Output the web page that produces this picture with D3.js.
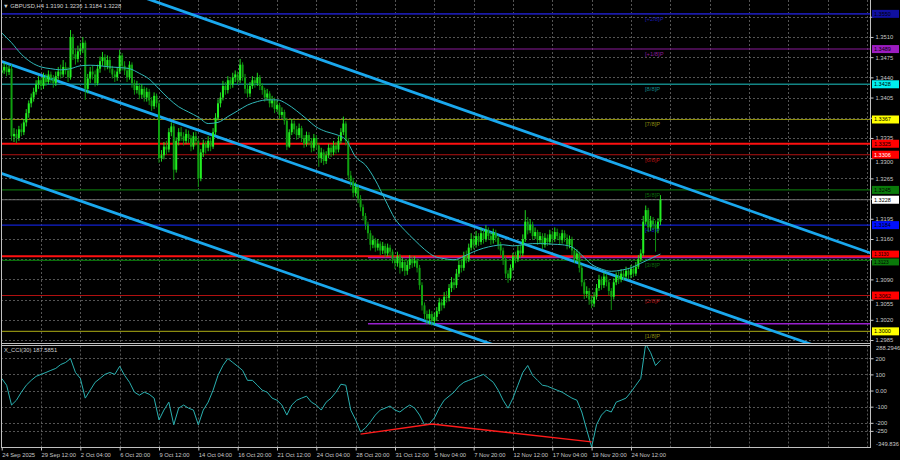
<!DOCTYPE html>
<html><head><meta charset="utf-8">
<script src="https://cdn.jsdelivr.net/npm/d3@7"></script>
<style>
html,body{margin:0;padding:0;background:#000;}
svg{display:block;}
text{font-family:"Liberation Sans",Arial,sans-serif;}
</style></head><body>
<svg id="c" width="900" height="460"></svg>
<script>
// ---------------- DATA ----------------
const symbol = "GBPUSD,H4";
const lastOHLC = ["1.3190","1.3236","1.3184","1.3228"];
const cciName = "X_CCI(30) 187.5851";
const firstOpen = 1.3448;
const closes = [
1.3452,1.3458,1.3449,1.3455,1.3338,1.3342,1.3335,1.3350,1.3345,1.3362,
1.3378,1.3395,1.3405,1.3415,1.3428,1.3435,1.3425,1.3440,1.3432,1.3445,
1.3438,1.3430,1.3442,1.3450,1.3445,1.3458,1.3452,1.3440,1.3510,1.3480,
1.3472,1.3485,1.3490,1.3500,1.3420,1.3438,1.3450,1.3445,1.3430,1.3455,
1.3468,1.3475,1.3460,1.3470,1.3455,1.3445,1.3440,1.3450,1.3478,1.3460,
1.3452,1.3440,1.3462,1.3430,1.3418,1.3425,1.3410,1.3420,1.3405,1.3415,
1.3400,1.3390,1.3408,1.3395,1.3300,1.3305,1.3320,1.3315,1.3345,1.3355,
1.3280,1.3330,1.3345,1.3338,1.3330,1.3342,1.3335,1.3320,1.3338,1.3330,
1.3265,1.3310,1.3325,1.3318,1.3330,1.3320,1.3345,1.3370,1.3395,1.3405,
1.3425,1.3418,1.3435,1.3428,1.3440,1.3445,1.3435,1.3462,1.3440,1.3420,
1.3412,1.3425,1.3435,1.3430,1.3440,1.3425,1.3418,1.3405,1.3412,1.3395,
1.3400,1.3385,1.3392,1.3375,1.3380,1.3365,1.3320,1.3345,1.3360,1.3350,
1.3340,1.3352,1.3335,1.3325,1.3340,1.3330,1.3318,1.3335,1.3322,1.3300,
1.3310,1.3295,1.3305,1.3318,1.3310,1.3322,1.3315,1.3330,1.3345,1.3360,
1.3330,1.3270,1.3260,1.3240,1.3250,1.3230,1.3215,1.3200,1.3185,1.3170,
1.3150,1.3158,1.3145,1.3152,1.3140,1.3148,1.3135,1.3145,1.3138,1.3125,
1.3118,1.3130,1.3110,1.3120,1.3105,1.3115,1.3125,1.3118,1.3122,1.3110,
1.3080,1.3045,1.3030,1.3022,1.3030,1.3018,1.3025,1.3035,1.3050,1.3045,
1.3060,1.3058,1.3075,1.3085,1.3080,1.3100,1.3115,1.3110,1.3130,1.3125,
1.3145,1.3160,1.3150,1.3165,1.3155,1.3170,1.3160,1.3175,1.3165,1.3158,
1.3170,1.3162,1.3150,1.3140,1.3125,1.3100,1.3092,1.3110,1.3130,1.3125,
1.3140,1.3135,1.3160,1.3190,1.3175,1.3185,1.3165,1.3172,1.3158,1.3165,
1.3150,1.3162,1.3155,1.3168,1.3160,1.3172,1.3165,1.3158,1.3170,1.3162,
1.3150,1.3160,1.3140,1.3125,1.3135,1.3110,1.3085,1.3065,1.3070,1.3055,
1.3048,1.3060,1.3075,1.3090,1.3080,1.3095,1.3085,1.3070,1.3060,1.3085,
1.3095,1.3090,1.3100,1.3095,1.3105,1.3098,1.3108,1.3100,1.3112,1.3125,
1.3135,1.3190,1.3210,1.3180,1.3192,1.3185,1.3178,1.3190,1.3228];
const highs = [
1.3462,1.3465,1.3463,1.3460,1.3462,1.3352,1.3350,1.3356,1.3360,1.3368,
1.3385,1.3400,1.3412,1.3422,1.3435,1.3442,1.3440,1.3448,1.3446,1.3452,
1.3450,1.3444,1.3450,1.3458,1.3462,1.3470,1.3466,1.3458,1.3522,1.3515,
1.3490,1.3495,1.3500,1.3510,1.3504,1.3446,1.3458,1.3460,1.3452,1.3462,
1.3476,1.3484,1.3480,1.3478,1.3476,1.3460,1.3452,1.3458,1.3488,1.3482,
1.3468,1.3458,1.3468,1.3466,1.3436,1.3434,1.3430,1.3428,1.3424,1.3422,
1.3420,1.3406,1.3414,1.3412,1.3400,1.3314,1.3328,1.3330,1.3352,1.3362,
1.3360,1.3336,1.3352,1.3354,1.3345,1.3350,1.3348,1.3340,1.3345,1.3346,
1.3335,1.3316,1.3332,1.3330,1.3338,1.3336,1.3352,1.3378,1.3402,1.3414,
1.3434,1.3432,1.3442,1.3440,1.3448,1.3452,1.3450,1.3472,1.3466,1.3446,
1.3428,1.3432,1.3442,1.3440,1.3448,1.3444,1.3430,1.3422,1.3420,1.3416,
1.3408,1.3405,1.3400,1.3396,1.3388,1.3384,1.3370,1.3350,1.3368,1.3365,
1.3356,1.3360,1.3356,1.3340,1.3346,1.3345,1.3335,1.3342,1.3340,1.3326,
1.3318,1.3315,1.3312,1.3325,1.3324,1.3330,1.3328,1.3338,1.3352,1.3372,
1.3364,1.3335,1.3278,1.3266,1.3258,1.3254,1.3236,1.3220,1.3205,1.3190,
1.3175,1.3166,1.3162,1.3160,1.3156,1.3155,1.3152,1.3152,1.3150,1.3142,
1.3130,1.3138,1.3134,1.3128,1.3124,1.3122,1.3132,1.3130,1.3130,1.3126,
1.3115,1.3085,1.3050,1.3036,1.3038,1.3035,1.3032,1.3042,1.3058,1.3056,
1.3068,1.3070,1.3082,1.3094,1.3092,1.3108,1.3122,1.3124,1.3138,1.3140,
1.3152,1.3170,1.3166,1.3174,1.3170,1.3180,1.3176,1.3184,1.3180,1.3172,
1.3178,1.3176,1.3166,1.3155,1.3145,1.3130,1.3106,1.3116,1.3136,1.3138,
1.3148,1.3150,1.3168,1.3210,1.3198,1.3194,1.3190,1.3180,1.3176,1.3172,
1.3170,1.3170,1.3168,1.3176,1.3174,1.3180,1.3178,1.3170,1.3176,1.3175,
1.3168,1.3166,1.3164,1.3145,1.3142,1.3138,1.3115,1.3090,1.3078,1.3075,
1.3062,1.3068,1.3082,1.3098,1.3095,1.3102,1.3100,1.3090,1.3075,1.3092,
1.3102,1.3104,1.3108,1.3106,1.3112,1.3110,1.3115,1.3114,1.3120,1.3132,
1.3142,1.3200,1.3218,1.3214,1.3200,1.3198,1.3192,1.3196,1.3236];
const lows = [
1.3440,1.3446,1.3442,1.3444,1.3330,1.3328,1.3326,1.3330,1.3338,1.3340,
1.3355,1.3370,1.3388,1.3398,1.3410,1.3420,1.3418,1.3420,1.3425,1.3428,
1.3430,1.3422,1.3425,1.3436,1.3438,1.3440,1.3445,1.3432,1.3436,1.3470,
1.3462,1.3466,1.3478,1.3482,1.3401,1.3412,1.3430,1.3436,1.3424,1.3426,
1.3448,1.3460,1.3452,1.3454,1.3448,1.3438,1.3432,1.3434,1.3446,1.3452,
1.3444,1.3432,1.3436,1.3422,1.3410,1.3412,1.3402,1.3404,1.3398,1.3398,
1.3392,1.3382,1.3385,1.3388,1.3292,1.3294,1.3298,1.3306,1.3310,1.3338,
1.3262,1.3275,1.3322,1.3330,1.3322,1.3325,1.3326,1.3312,1.3315,1.3322,
1.3250,1.3260,1.3302,1.3308,1.3312,1.3312,1.3316,1.3340,1.3365,1.3388,
1.3400,1.3410,1.3412,1.3420,1.3422,1.3432,1.3428,1.3430,1.3434,1.3412,
1.3405,1.3406,1.3420,1.3422,1.3425,1.3418,1.3410,1.3398,1.3400,1.3388,
1.3388,1.3378,1.3380,1.3368,1.3370,1.3358,1.3314,1.3318,1.3340,1.3342,
1.3332,1.3335,1.3328,1.3318,1.3320,1.3322,1.3310,1.3312,1.3315,1.3285,
1.3292,1.3288,1.3290,1.3300,1.3302,1.3305,1.3308,1.3310,1.3325,1.3340,
1.3322,1.3262,1.3250,1.3232,1.3234,1.3222,1.3208,1.3192,1.3176,1.3160,
1.3140,1.3144,1.3138,1.3140,1.3132,1.3134,1.3128,1.3130,1.3130,1.3118,
1.3108,1.3112,1.3100,1.3104,1.3096,1.3098,1.3108,1.3110,1.3112,1.3102,
1.3072,1.3036,1.3020,1.3012,1.3012,1.3010,1.3012,1.3018,1.3030,1.3036,
1.3040,1.3050,1.3052,1.3068,1.3072,1.3075,1.3094,1.3102,1.3105,1.3118,
1.3120,1.3140,1.3142,1.3145,1.3148,1.3150,1.3152,1.3155,1.3158,1.3150,
1.3152,1.3155,1.3142,1.3132,1.3115,1.3092,1.3084,1.3088,1.3105,1.3118,
1.3120,1.3128,1.3130,1.3155,1.3168,1.3170,1.3158,1.3160,1.3150,1.3152,
1.3142,1.3145,1.3148,1.3150,1.3152,1.3155,1.3158,1.3150,1.3152,1.3155,
1.3142,1.3144,1.3132,1.3118,1.3120,1.3102,1.3078,1.3056,1.3058,1.3046,
1.3040,1.3042,1.3055,1.3070,1.3072,1.3075,1.3078,1.3062,1.3037,1.3055,
1.3080,1.3082,1.3085,1.3088,1.3090,1.3090,1.3092,1.3094,1.3096,1.3108,
1.3120,1.3130,1.3185,1.3172,1.3174,1.3176,1.3138,1.3170,1.3184];
// moving average, one value every 4 bars
const maEvery = 4;
const maValues = [
1.3517,1.3500,1.3480,1.3466,1.3458,1.3455,1.3453,1.3455,1.3460,1.3461,
1.3460,1.3458,1.3457,1.3455,1.3447,1.3437,1.3420,1.3403,1.3389,1.3380,
1.3371,1.3360,1.3362,1.3372,1.3382,1.3392,1.3398,1.3401,1.3401,1.3394,
1.3382,1.3368,1.3354,1.3346,1.3341,1.3332,1.3302,1.3288,1.3262,1.3228,
1.3195,1.3175,1.3158,1.3142,1.3130,1.3126,1.3124,1.3130,1.3138,1.3144,
1.3148,1.3150,1.3148,1.3150,1.3152,1.3152,1.3151,1.3150,1.3146,1.3132,
1.3116,1.3108,1.3104,1.3106,1.3110,1.3118,1.3126,1.3134];
// CCI(30), one value every 2 bars
const cciEvery = 2;
const cciValues = [
75,33,-90,-60,-10,33,63,88,100,112,
125,137,161,174,198,112,75,-47,2,51,
75,100,112,100,150,94,51,-10,-29,-10,
-23,-47,-182,-121,-72,-212,-109,-90,-109,-121,
-212,-121,-72,2,94,155,198,174,150,125,
63,63,33,2,-10,-47,-60,-90,-152,-90,
-60,-47,-35,-72,-90,-121,-72,-47,-10,39,
33,-121,-182,-256,-231,-194,-152,-121,-109,-96,
-121,-133,-109,-90,-109,-152,-212,-206,-170,-109,
-60,-35,-10,27,51,63,75,88,100,75,
51,2,-60,-109,-47,33,112,155,94,63,
33,27,14,2,-10,-29,-47,-60,-133,-243,
-349.8,-212,-152,-121,-133,-72,-60,-47,-10,33,
75,288.3,235,155,187.6];
const cciLevels = [200,100,0,-100,-200,-250];
const cciLevelLabels = ["200","100","0.00","-100","-200","-250"];
const cciMinMax = [-349.836, 288.2946];
const cciMinMaxLabels = ["-349.836","288.2946"];
// divergence line (bar, cci)
const divBars = [146,175,240];
const divValues = [-270,-207,-318];

const timeLabels = ["24 Sep 2025","29 Sep 12:00","2 Oct 04:00","6 Oct 20:00","9 Oct 12:00",
 "14 Oct 04:00","16 Oct 20:00","21 Oct 12:00","24 Oct 04:00","28 Oct 20:00","31 Oct 12:00",
 "5 Nov 04:00","7 Nov 20:00","12 Nov 12:00","17 Nov 04:00","19 Nov 20:00","24 Nov 12:00"];
const timeLabelEvery = 16;
// price grid levels; labels that the axis tags cover are not printed
const priceTicks = [1.3545,1.3510,1.3475,1.3440,1.3405,1.3370,1.3335,1.3300,1.3265,1.3230,
 1.3195,1.3160,1.3125,1.3090,1.3055,1.3020,1.2985];
const coveredTicks = [1.3545,1.3370,1.3230,1.3125];
const nudgedTicks = [1.3300,1.3055];

// Murray math levels
const murrayNames = ["[+2/8]P","[+1/8]P","[8/8]P","[7/8]P","[6/8]P","[5/8]P","[4/8]P","[3/8]P","[2/8]P","[1/8]P"];
const murrayPrices = [1.3550,1.3489,1.3428,1.3367,1.3306,1.3245,1.3184,1.3123,1.3062,1.3000];
const redLevels = [1.3325,1.3130];
const purpleLevels = [1.3128,1.3013];
const purpleFromBar = 149;
const currentPrice = 1.3228;
// channel rays: [bar, price] pairs
const channelUpper = [[60,1.3575],[243,1.3301]];
const channelMiddle = [[-1,1.3469],[243,1.3106]];
const channelLower = [[-1,1.3275],[243,1.2913]];
// price tags on the axis
const tagPrices = [1.3550,1.3489,1.3428,1.3367,1.3325,1.3306,1.3245,1.3228,1.3184,1.3130,1.3123,1.3062,1.3000];

// ---------------- STYLE ----------------
const murrayColors = ["#1a1aa8","#8a1a9a","#138585","#8c8c10","#b01010","#0b6b0b","#1020d0","#0b6b0b","#b01010","#8c8c10"];
const tagStyles = [
 ["#1010a0","#000"],["#9c1cc0","#000"],["#00f0f0","#000"],["#ffff00","#000"],["#ff0000","#000"],["#ff0000","#fff"],
 ["#0a7a0a","#000"],["#ffffff","#000"],["#0010ff","#000"],["#ff0000","#000"],["#0a7a0a","#000"],["#ff0000","#000"],["#ffff00","#000"]];
// vertical shift (px) of the two crowded tags so that both stay readable
const tagShift = [0,0,0,0,0,0,0,0,0,-2.2,1.6,0,0];

const svg = d3.select("#c");
const plotL = 1, plotR = 870, mainT = 0, mainB = 343.5, cciT = 345.5, cciB = 447.5;
const N = closes.length;
const x = d3.scaleLinear().domain([0, 353.25]).range([1.7, plotR]);
const y = d3.scaleLinear().domain([1.2980, 1.3574]).range([342.9, 0]);
const yc = d3.scaleLinear().domain(cciMinMax).range([447, 344]);
const gridCol = "#6a6a6a", axisCol = "#c8c8c8", fs = 5.8;

svg.append("rect").attr("width",900).attr("height",460).attr("fill","#000");
const defs = svg.append("defs");
defs.append("clipPath").attr("id","mclip").append("rect").attr("x",plotL).attr("y",mainT).attr("width",plotR-plotL).attr("height",mainB-mainT);
defs.append("clipPath").attr("id","cclip").append("rect").attr("x",plotL).attr("y",cciT).attr("width",plotR-plotL).attr("height",cciB-cciT);

// grid
const tickBars = timeLabels.map((d,i)=>i*timeLabelEvery);
const grid = svg.append("g").attr("stroke",gridCol).attr("stroke-dasharray","2,2").attr("stroke-width",0.8);
const gridBars = tickBars.slice(1).concat([272,288,304,320,336,352]);
gridBars.forEach(b=>{
  const gx = Math.round(x(b))+0.5;
  grid.append("line").attr("x1",gx).attr("x2",gx).attr("y1",mainT).attr("y2",mainB);
  grid.append("line").attr("x1",gx).attr("x2",gx).attr("y1",cciT).attr("y2",cciB);
});
priceTicks.forEach(p=>grid.append("line").attr("x1",plotL).attr("x2",plotR).attr("y1",Math.round(y(p))+0.5).attr("y2",Math.round(y(p))+0.5));
cciLevels.forEach(v=>grid.append("line").attr("x1",plotL).attr("x2",plotR).attr("y1",Math.round(yc(v))+0.5).attr("y2",Math.round(yc(v))+0.5));

// main panel content
const m = svg.append("g").attr("clip-path","url(#mclip)");
murrayPrices.forEach((p,i)=>{
  m.append("line").attr("x1",plotL).attr("x2",plotR).attr("y1",y(p)).attr("y2",y(p))
   .attr("stroke",murrayColors[i]).attr("stroke-width", i===0||i===2 ? 1.6 : 1.1);
});
m.append("line").attr("x1",plotL).attr("x2",plotR).attr("y1",y(currentPrice)).attr("y2",y(currentPrice)).attr("stroke","#707070").attr("stroke-width",1);
purpleLevels.forEach(p=>m.append("line").attr("x1",x(purpleFromBar)).attr("x2",plotR).attr("y1",y(p)).attr("y2",y(p)).attr("stroke","#9a20d0").attr("stroke-width",1.5));
redLevels.forEach(p=>m.append("line").attr("x1",plotL).attr("x2",plotR).attr("y1",y(p)).attr("y2",y(p)).attr("stroke","#ff1010").attr("stroke-width",2));

// murray labels
murrayNames.forEach((n,i)=>{
  m.append("text").attr("x",645).attr("y",y(murrayPrices[i])+7).attr("font-size",fs).attr("fill",murrayColors[i]).text(n);
});

// channels
function ray(pts){
  const [[b1,p1],[b2,p2]] = pts;
  const s = (p2-p1)/(b2-b1);
  const bs = -2, be = 360;
  return [[x(bs), y(p1 + s*(bs-b1))],[x(be), y(p1 + s*(be-b1))]];
}
[channelUpper,channelMiddle,channelLower].forEach(c=>{
  m.append("path").attr("d",d3.line()(ray(c))).attr("stroke","#1aa8ee").attr("stroke-width",2.8).attr("fill","none");
});

// candles
const opens = closes.map((c,i)=> i===0 ? firstOpen : closes[i-1]);
const cg = m.append("g");
closes.forEach((c,i)=>{
  const o = opens[i], up = c>=o;
  const cx = x(i);
  const col = up ? "#22ee22" : "#10a010";
  cg.append("line").attr("x1",cx).attr("x2",cx).attr("y1",y(highs[i])).attr("y2",y(lows[i])).attr("stroke",col).attr("stroke-width",0.9);
  const t = y(Math.max(o,c)), b = y(Math.min(o,c));
  cg.append("rect").attr("x",cx-1).attr("width",2).attr("y",t).attr("height",Math.max(0.8,b-t)).attr("fill",col);
});

// moving average
m.append("path").datum(maValues).attr("fill","none").attr("stroke","#30b8b8").attr("stroke-width",1)
 .attr("d",d3.line().x((d,i)=>x(i*maEvery)).y(d=>y(d)).curve(d3.curveMonotoneX));

// CCI panel
const c = svg.append("g").attr("clip-path","url(#cclip)");
c.append("path").datum(cciValues).attr("fill","none").attr("stroke","#2ab0b0").attr("stroke-width",1)
 .attr("d",d3.line().x((d,i)=>x(i*cciEvery)).y(d=>yc(d)));
c.append("path").datum(divBars.map((b,i)=>[x(b),yc(divValues[i])])).attr("fill","none").attr("stroke","#ff1a1a").attr("stroke-width",1.4).attr("d",d3.line());

// frames
const fr = svg.append("g").attr("stroke","#c0c0c0").attr("stroke-width",1).attr("fill","none");
fr.append("line").attr("x1",plotL+0.5).attr("x2",plotL+0.5).attr("y1",0).attr("y2",cciB);
fr.append("line").attr("x1",plotR+0.5).attr("x2",plotR+0.5).attr("y1",0).attr("y2",cciB);
fr.append("line").attr("x1",plotL).attr("x2",plotR).attr("y1",mainB).attr("y2",mainB);
fr.append("line").attr("x1",plotL).attr("x2",plotR).attr("y1",cciT).attr("y2",cciT);
fr.append("line").attr("x1",plotL).attr("x2",plotR+1).attr("y1",cciB).attr("y2",cciB);

// price axis
const pa = d3.axisRight(y).tickValues(priceTicks).tickFormat(d=>coveredTicks.includes(d)?"":d3.format(".4f")(d)).tickSize(3).tickPadding(2);
const pag = svg.append("g").attr("transform",`translate(${plotR+0.5},0)`).call(pa);
pag.select(".domain").remove();
pag.selectAll("line").attr("stroke",axisCol);
pag.selectAll("text").attr("fill",axisCol).attr("font-size",fs).attr("font-family","Liberation Sans, Arial");
pag.selectAll(".tick").filter(d=>nudgedTicks.includes(d)).select("text").attr("dy","0.95em");

// cci axis
const ca = d3.axisRight(yc).tickValues(cciLevels).tickFormat((d,i)=>cciLevelLabels[i]).tickSize(3).tickPadding(2);
const cag = svg.append("g").attr("transform",`translate(${plotR+0.5},0)`).call(ca);
cag.select(".domain").remove();
cag.selectAll("line").attr("stroke",axisCol);
cag.selectAll("text").attr("fill",axisCol).attr("font-size",fs).attr("font-family","Liberation Sans, Arial");
svg.append("text").attr("x",876).attr("y",yc(cciMinMax[1])+5.5).attr("font-size",fs).attr("fill",axisCol).text(cciMinMaxLabels[1]);
svg.append("text").attr("x",876).attr("y",yc(cciMinMax[0])-1.5).attr("font-size",fs).attr("fill",axisCol).text(cciMinMaxLabels[0]);

// price tags
tagPrices.forEach((p,i)=>{
  const yy = y(p) + tagShift[i];
  const crowded = tagShift[i] !== 0;
  const h = crowded ? 7 : 8;
  svg.append("rect").attr("x",plotR+2).attr("y",yy-h/2).attr("width",27).attr("height",h).attr("fill",tagStyles[i][0]);
  svg.append("text").attr("x",plotR+4).attr("y",yy+(crowded?1.7:2)).attr("font-size",crowded?fs-1:fs-0.3).attr("fill",tagStyles[i][1]).text(p.toFixed(4));
});

// time axis
const ta = d3.axisBottom(x).tickValues(tickBars).tickFormat((d,i)=>timeLabels[i]).tickSize(3).tickPadding(2);
const tag = svg.append("g").attr("transform",`translate(0,${cciB})`).call(ta);
tag.select(".domain").remove();
tag.selectAll("line").attr("stroke",axisCol);
tag.selectAll("text").attr("fill",axisCol).attr("font-size",fs).attr("text-anchor","start").attr("font-family","Liberation Sans, Arial");

// titles
svg.append("text").attr("x",3).attr("y",8).attr("font-size",fs).attr("fill","#d0d0d0")
  .text("\u25BC " + symbol + "  " + lastOHLC.join(" "));
svg.append("text").attr("x",4).attr("y",yc(cciMinMax[1])+8).attr("font-size",fs).attr("fill","#d0d0d0").text(cciName);
</script>
</body></html>
